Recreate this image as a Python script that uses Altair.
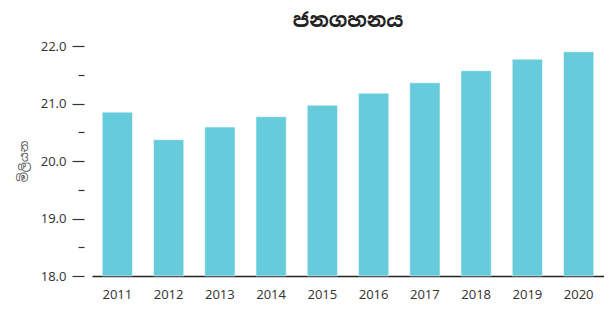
import altair as alt
import pandas as pd

years = ["2011", "2012", "2013", "2014", "2015", "2016", "2017", "2018", "2019", "2020"]
population = [20.85, 20.37, 20.59, 20.77, 20.97, 21.18, 21.36, 21.57, 21.77, 21.90]
y_ticks = [18.0, 18.5, 19.0, 19.5, 20.0, 20.5, 21.0, 21.5, 22.0]

df = pd.DataFrame({"year": years, "pop": population})

font = "Noto Sans Sinhala, Iskoola Pota, Noto Sans, DejaVu Sans, sans-serif"

chart = alt.Chart(df).mark_bar(
    color="#66CBDB", stroke="#ffffff", strokeOpacity=0.5, strokeWidth=1
).encode(
    x=alt.X(
        "year:N",
        sort=years,
        scale=alt.Scale(paddingInner=0.41, paddingOuter=0.2),
        axis=alt.Axis(
            title=None, labelAngle=0, ticks=False, domain=True,
            domainColor="#222222", domainWidth=1.5,
            labelFontSize=13, labelColor="#333333", labelPadding=12,
            labelFont=font,
        ),
    ),
    y=alt.Y(
        "pop:Q",
        scale=alt.Scale(domain=[18, 22], zero=False, nice=False, clamp=True),
        axis=alt.Axis(
            title="මිලියන", titleFontSize=12, titleFontWeight="normal",
            titleColor="#555555", titlePadding=10, titleFont=font,
            values=y_ticks,
            labelExpr="datum.value % 1 == 0 ? format(datum.value, '.1f') : ''",
            labelFontSize=13, labelColor="#333333", labelPadding=6, labelFont=font,
            domain=False, grid=False, offset=8,
            tickColor="#333333", tickWidth=1.2,
            tickSize=alt.condition("datum.value % 1 == 0", alt.value(12), alt.value(6)),
        ),
    ),
).properties(
    width=512,
    height=230,
    title=alt.TitleParams(
        "ජනගහනය", fontSize=20, fontWeight="bold", anchor="middle",
        color="#222222", offset=9, font=font,
    ),
    autosize=alt.AutoSizeParams(type="none"),
    padding={"left": 84, "top": 38, "right": 0, "bottom": 27},
).configure_view(stroke=None)

chart.save("out.html", embed_options={"renderer": "svg", "actions": False})
